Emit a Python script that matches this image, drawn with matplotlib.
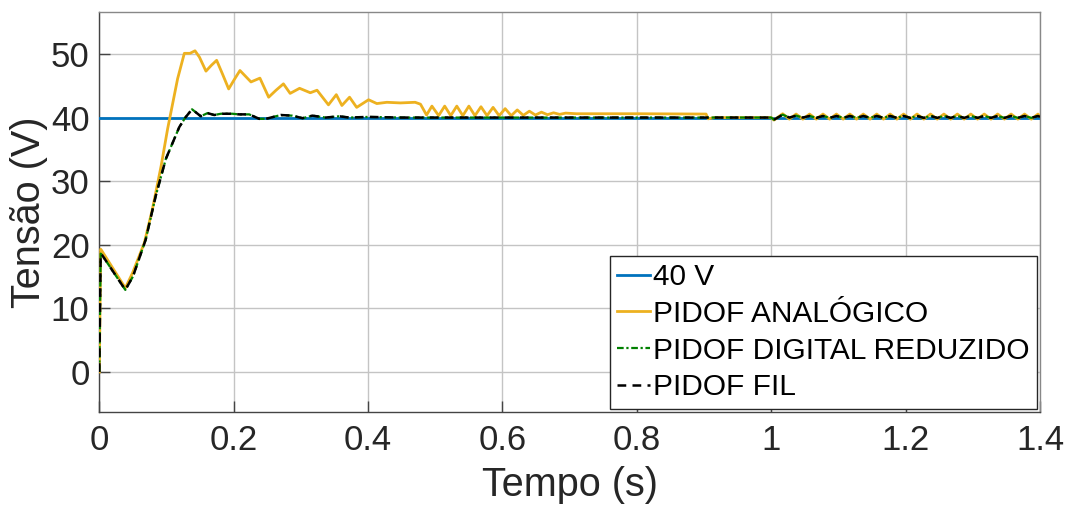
import matplotlib
matplotlib.use("Agg")
import matplotlib.pyplot as plt

plt.rcParams['font.family'] = ['Liberation Sans', 'DejaVu Sans']

# ---------------- data ----------------
t_ref = [0.0, 1.4]
v_ref = [40.0, 40.0]

t_ana = [0.0, 0.002, 0.004, 0.0387, 0.0496, 0.067, 0.079, 0.092, 0.1016, 0.1165,
         0.1265, 0.135, 0.1424, 0.149, 0.1587, 0.1666, 0.1746, 0.1835, 0.1925, 0.201,
         0.2093, 0.2175, 0.2257, 0.239, 0.2455, 0.252, 0.263, 0.274, 0.284, 0.298,
         0.314, 0.324, 0.341, 0.3527, 0.361, 0.3724, 0.383, 0.4007, 0.413, 0.428,
         0.448, 0.47, 0.478, 0.487, 0.495, 0.505, 0.514, 0.523, 0.532, 0.541,
         0.550, 0.559, 0.568, 0.577, 0.586, 0.595, 0.604, 0.613, 0.622, 0.631,
         0.640, 0.649, 0.658, 0.667, 0.676, 0.685, 0.694, 0.710, 0.800, 0.903,
         0.906, 0.915, 1.0,
         1.004, 1.017, 1.027, 1.037, 1.047, 1.057, 1.067, 1.077, 1.087, 1.097,
         1.107, 1.117, 1.127, 1.137, 1.147, 1.157, 1.167, 1.177, 1.187, 1.197,
         1.207, 1.217, 1.227, 1.237, 1.247, 1.257, 1.267, 1.277, 1.287, 1.297,
         1.307, 1.317, 1.327, 1.337, 1.347, 1.357, 1.367, 1.377, 1.387, 1.397,
         1.4]
v_ana = [0.0, 19.3, 19.0, 13.2, 15.6, 20.3, 25.6, 32.4, 38.2, 46.1,
         50.1, 50.1, 50.5, 49.5, 47.3, 48.2, 49.0, 46.8, 44.5, 46.0,
         47.4, 46.5, 45.6, 46.2, 44.7, 43.2, 44.3, 45.3, 43.8, 44.6,
         43.9, 44.3, 42.0, 43.6, 41.9, 43.2, 41.6, 42.8, 42.2, 42.4,
         42.3, 42.4, 42.1, 40.4, 41.8, 40.3, 41.8, 40.3, 41.8, 40.3,
         41.8, 40.3, 41.7, 40.3, 41.6, 40.3, 41.4, 40.3, 41.2, 40.35,
         41.0, 40.4, 40.85, 40.45, 40.75, 40.5, 40.7, 40.6, 40.6, 40.55,
         39.8, 40.0, 40.0,
         39.6, 40.6, 39.75, 40.55, 39.75, 40.55, 39.75, 40.55, 39.75, 40.55,
         39.75, 40.55, 39.75, 40.55, 39.75, 40.55, 39.75, 40.55, 39.75, 40.55,
         39.75, 40.55, 39.75, 40.55, 39.75, 40.55, 39.75, 40.55, 39.75, 40.55,
         39.75, 40.55, 39.75, 40.55, 39.75, 40.55, 39.75, 40.55, 39.75, 40.55,
         40.2]

t_dig = [0.0, 0.002, 0.004, 0.0387, 0.050, 0.069, 0.084, 0.099, 0.119, 0.128,
         0.138, 0.151, 0.161, 0.171, 0.181, 0.198, 0.208, 0.223, 0.238, 0.248,
         0.270, 0.287, 0.3025, 0.317, 0.337, 0.357, 0.372, 0.400, 0.450, 0.600,
         0.800, 1.0,
         1.004, 1.017, 1.027, 1.037, 1.047, 1.057, 1.067, 1.077, 1.087, 1.097,
         1.107, 1.117, 1.127, 1.137, 1.147, 1.157, 1.167, 1.177, 1.187, 1.197,
         1.207, 1.217, 1.227, 1.237, 1.247, 1.257, 1.267, 1.277, 1.287, 1.297,
         1.307, 1.317, 1.327, 1.337, 1.347, 1.357, 1.367, 1.377, 1.387, 1.397,
         1.4]
v_dig_reduzido = [0.0, 18.6, 18.4, 12.9, 15.0, 20.8, 27.7, 33.5, 38.5, 40.0,
                  41.3, 40.2, 40.7, 40.4, 40.6, 40.6, 40.5, 40.5, 39.8, 39.8,
                  40.4, 40.3, 39.9, 40.3, 40.0, 40.2, 40.0, 40.1, 40.0, 40.0,
                  40.0, 40.0,
                  39.65, 40.45, 40.0, 40.3, 40.0, 40.25, 39.95, 40.25, 39.95, 40.25,
                  39.95, 40.25, 39.95, 40.25, 39.95, 40.25, 39.95, 40.25, 39.95, 40.25,
                  39.95, 40.25, 39.95, 40.25, 39.95, 40.25, 39.95, 40.25, 39.95, 40.25,
                  39.95, 40.25, 39.95, 40.25, 39.95, 40.25, 39.95, 40.25, 39.95, 40.25,
                  40.1]
v_fil = [0.0, 18.6, 18.4, 12.9, 15.0, 20.8, 27.7, 33.5, 38.5, 40.0,
         41.3, 40.2, 40.7, 40.4, 40.6, 40.6, 40.5, 40.5, 39.8, 39.8,
         40.4, 40.3, 39.9, 40.3, 40.0, 40.2, 40.0, 40.1, 40.0, 40.0,
         40.0, 40.0,
         39.65, 40.45, 40.0, 40.3, 40.0, 40.25, 39.95, 40.25, 39.95, 40.25,
         39.95, 40.25, 39.95, 40.25, 39.95, 40.25, 39.95, 40.25, 39.95, 40.25,
         39.95, 40.25, 39.95, 40.25, 39.95, 40.25, 39.95, 40.25, 39.95, 40.25,
         39.95, 40.25, 39.95, 40.25, 39.95, 40.25, 39.95, 40.25, 39.95, 40.25,
         40.1]

labels = ['40 V', 'PIDOF ANALÓGICO', 'PIDOF DIGITAL REDUZIDO', 'PIDOF FIL']
x_ticks = [0, 0.2, 0.4, 0.6, 0.8, 1.0, 1.2, 1.4]
x_tick_labels = ['0', '0.2', '0.4', '0.6', '0.8', '1', '1.2', '1.4']
y_ticks = [0, 10, 20, 30, 40, 50]

# ---------------- figure ----------------
fig = plt.figure(figsize=(10.68, 5.08), dpi=100)
ax = fig.add_axes([0.093, 0.1896, 0.8808, 0.7868])

ax.plot(t_ref, v_ref, color='#0072BD', lw=2.0, label=labels[0], zorder=3)
ax.plot(t_ana, v_ana, color='#EDB120', lw=2.0, label=labels[1], zorder=4,
        solid_joinstyle='round')
ax.plot(t_dig, v_dig_reduzido, color='#008000', lw=1.6, linestyle=(0, (3, 1.2, 1, 1.2)),
        label=labels[2], zorder=5)
ax.plot(t_dig, v_fil, color='black', lw=1.8, linestyle=(0, (3.5, 2.5)),
        label=labels[3], zorder=6)

ax.set_xlim(0, 1.4)
ax.set_ylim(-6.25, 56.6)
ax.set_xticks(x_ticks)
ax.set_xticklabels(x_tick_labels)
ax.set_yticks(y_ticks)

ax.grid(True, color='#c4c4c4', lw=1.0)
ax.set_axisbelow(True)

for side in ['left', 'bottom']:
    ax.spines[side].set_color('#444444')
for side in ['top', 'right']:
    ax.spines[side].set_color('#888888')
for s in ax.spines.values():
    s.set_linewidth(1.0)

ax.tick_params(axis='both', direction='in', length=8, width=1.0, colors='#444444',
               labelsize=25, labelcolor='#262626')
ax.tick_params(axis='x', pad=9)
ax.tick_params(axis='y', pad=7)

ax.set_xlabel('Tempo (s)', fontsize=28.5, color='#262626', labelpad=6)
ax.set_ylabel('Tensão (V)', fontsize=28.5, color='#262626', labelpad=2)

leg = ax.legend(loc='lower right', fontsize=21.5, frameon=True, fancybox=False,
                edgecolor='#262626', framealpha=1.0, borderpad=0.25,
                labelspacing=0.29, handlelength=1.1, handletextpad=0.1,
                borderaxespad=0.1)
leg.get_frame().set_linewidth(1.0)
for txt in leg.get_texts():
    txt.set_color('black')

fig.savefig('out.png', dpi=100)
